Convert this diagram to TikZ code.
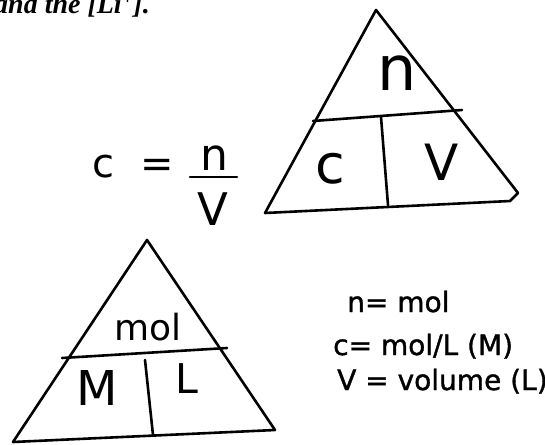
\documentclass[tikz,border=0pt]{standalone}
\usepackage{fontspec}
\setmainfont{DejaVu Sans}
\newfontfamily\titlefont{Liberation Serif}
\newfontfamily\legfont{DejaVu Sans}[FakeBold=1.2]
\newcommand{\fsz}[1]{\fontsize{#1}{#1}\selectfont}
\begin{document}
\begin{tikzpicture}[x=1pt,y=-1pt,
  hand/.style={line width=2.6pt, line cap=round, line join=round, draw=black},
  lbl/.style={inner sep=0pt, anchor=base},
  txt/.style={inner sep=0pt, anchor=base west},
  leg/.style={inner sep=0pt, anchor=base west, font=\legfont\fsz{28}},
]
\useasboundingbox (0,0) rectangle (545,444);
\clip (0,0) rectangle (545,444);

% title fragment at top (cut by the top edge, as in the reference)
\node[txt] (title) at (-6,14) {\titlefont\bfseries\itshape\fsz{28}and the [Li\textsuperscript{+}].};

% top triangle
\coordinate (ta) at (376,10);
\coordinate (tl) at (265,213);
\coordinate (tr) at (518,193);
\coordinate (tb) at (510,201);
\coordinate (tdl) at (313,121);
\coordinate (tdr) at (462,110);
\coordinate (tvt) at (381,117);
\coordinate (tvb) at (388,205);
\draw[hand] (tl) -- (ta) -- (tr) -- (tb) -- cycle;
\draw[hand] (tdl) -- (tdr);
\draw[hand] (tvt) -- (tvb);
\node[lbl] (tn) at (397,90) {\fsz{62}n};
\node[lbl] (tc) at (330,183) {\fsz{54}c};
\node[lbl] (tv) at (442,180) {\fsz{50}V};

% formula c = n / V
\node[lbl] (fc) at (103,177) {\fsz{40}c};
\node[lbl] (feq) at (157,177) {\fsz{40}=};
\node[lbl] (fn) at (214,170) {\fsz{44}n};
\coordinate (fbl) at (190,177);
\coordinate (fbr) at (237,177);
\draw[hand] (fbl) -- (fbr);
\node[lbl] (fv) at (213,225) {\fsz{45}V};

% bottom triangle
\coordinate (ba) at (147,240);
\coordinate (bl) at (13,442);
\coordinate (br) at (275,430);
\coordinate (bdl) at (62,358);
\coordinate (bdr) at (227,348);
\coordinate (bvt) at (145,360);
\coordinate (bvb) at (153,435);
\draw[hand] (bl) -- (ba) -- (br) -- cycle;
\draw[hand] (bdl) -- (bdr);
\draw[hand] (bvt) -- (bvb);
\node[lbl] (bmol) at (148,340) {\fsz{36}mol};
\node[lbl] (bM) at (97,405) {\fsz{48}M};
\node[lbl] (bL) at (187,393) {\fsz{41}L};

% legend
\node[leg] (r1) at (347,312) {n= mol};
\node[leg] (r2) at (333,355) {c= mol/L (M)};
\node[leg] (r3) at (337,390) {V = volume (L)};
\end{tikzpicture}
\end{document}
